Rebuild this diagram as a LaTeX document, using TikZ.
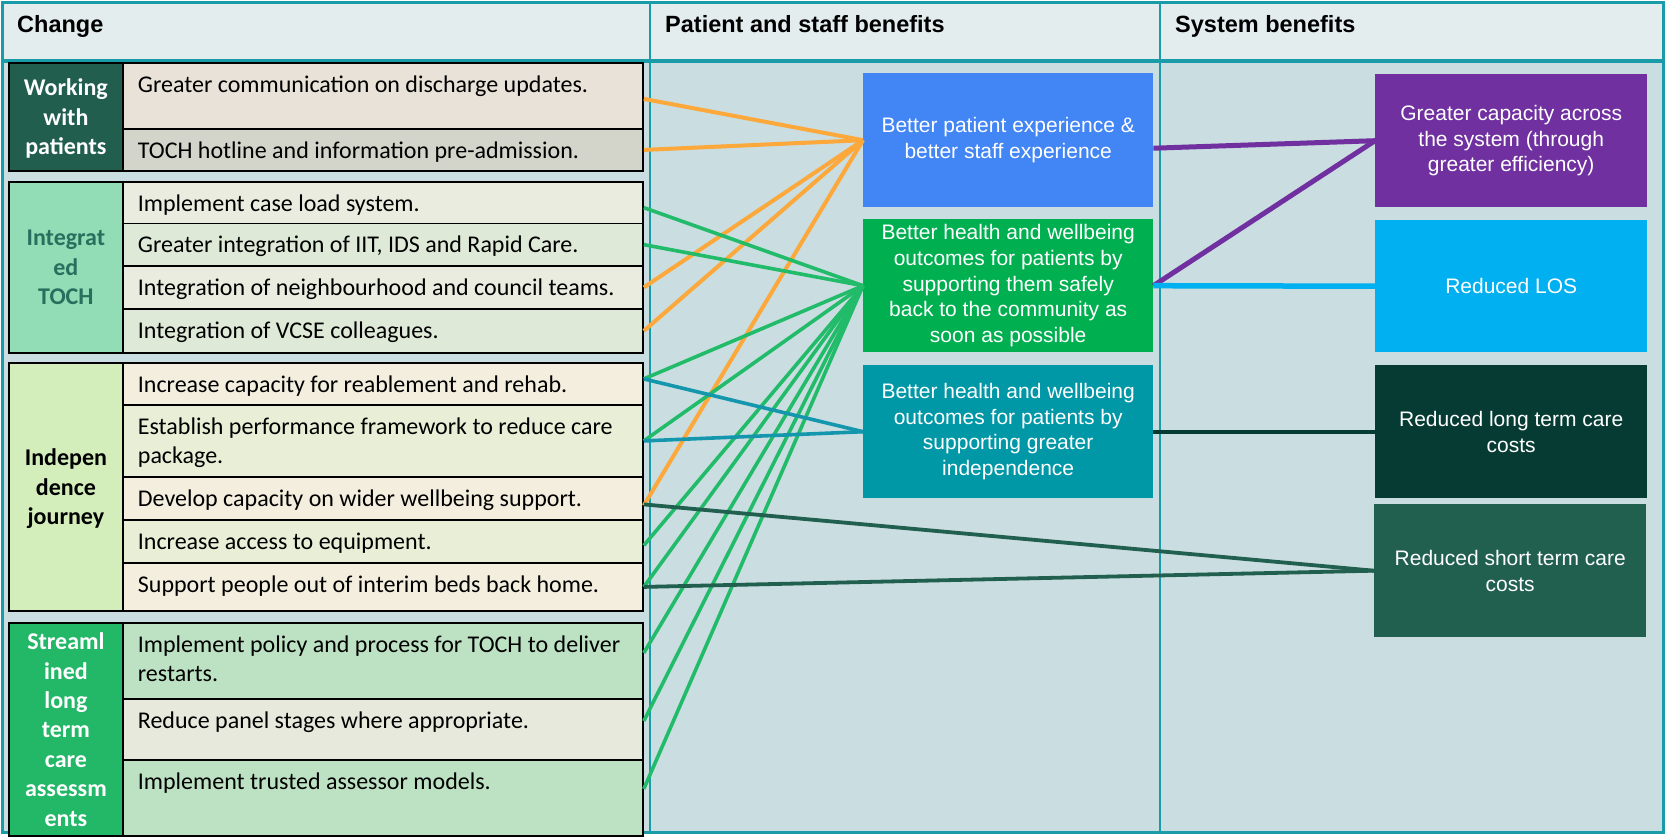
\documentclass[tikz,border=0pt]{standalone}
\usepackage{fontspec}
\newfontfamily\fcarl{Carlito}
\newfontfamily\farial{Liberation Sans}
\definecolor{frameteal}{HTML}{1A9BA8}
\definecolor{hdrbg}{HTML}{E3EDEE}
\definecolor{bodybg}{HTML}{CADDE1}
\definecolor{wplab}{HTML}{215E4E}
\definecolor{itlab}{HTML}{93DDB6}
\definecolor{ittext}{HTML}{2A6F5E}
\definecolor{ijlab}{HTML}{D3EDBB}
\definecolor{sllab}{HTML}{22B868}
\definecolor{wpa}{HTML}{E8E2D9}
\definecolor{wpb}{HTML}{D3D5CA}
\definecolor{ita}{HTML}{E9ECDF}
\definecolor{itb}{HTML}{DFE9D8}
\definecolor{ija}{HTML}{F3EEDE}
\definecolor{ijb}{HTML}{E9EED6}
\definecolor{sla}{HTML}{BDE2C3}
\definecolor{slb}{HTML}{E6E9DC}
\definecolor{cblue}{HTML}{4285F4}
\definecolor{cgreen}{HTML}{00B050}
\definecolor{cteal}{HTML}{0097A7}
\definecolor{cpurple}{HTML}{7030A0}
\definecolor{ccyan}{HTML}{00B0F0}
\definecolor{cdark}{HTML}{053B33}
\definecolor{cshort}{HTML}{215F4E}
\definecolor{lorange}{HTML}{FCA83A}
\definecolor{lgreen}{HTML}{22BB6A}
\definecolor{lteal}{HTML}{1497AD}
\newcommand{\rt}[2]{\parbox[c][#1pt][t]{490pt}{\raggedright\rule{0pt}{29.5pt}#2}}
\tikzset{
  rowbox/.style={draw=black, line width=1.8pt, anchor=north west, inner sep=0pt,
    minimum width=520pt, text=black, font=\fcarl\fontsize{24}{29.3}\selectfont},
  labbox/.style={draw=black, line width=1.8pt, anchor=north west, inner sep=0pt,
    minimum width=114pt, align=center, text depth=0pt, font=\fcarl\bfseries\fontsize{24}{29.4}\selectfont},
  benbox/.style={anchor=north west, inner sep=0pt, align=center, text=white,
    font=\farial\fontsize{21}{25.7}\selectfont},
  hdr/.style={anchor=base west, inner sep=0pt, font=\farial\bfseries\fontsize{23.5}{28}\selectfont},
  oline/.style={draw=lorange, line width=4pt},
  gline/.style={draw=lgreen, line width=3.6pt},
  tline/.style={draw=lteal, line width=3.6pt},
  sline/.style={draw=cshort, line width=3.8pt},
}
\begin{document}
\begin{tikzpicture}[x=1pt,y=-1pt]
\useasboundingbox (0,0) rectangle (1665,836);
% backgrounds and frame
\fill[hdrbg] (2,2) rectangle (1664,61);
\fill[bodybg] (2,61) rectangle (1664,832);
\draw[frameteal, line width=3pt] (2,2.5) rectangle (1663.5,832);
\draw[frameteal, line width=3.5pt] (2,61) -- (1664,61);
\draw[frameteal, line width=2pt] (650,2) -- (650,832);
\draw[frameteal, line width=2pt] (1160,2) -- (1160,832);
% headers
\node[hdr] (hchange) at (17,32) {Change};
\node[hdr] (hpatient) at (665,32) {Patient and staff benefits};
\node[hdr] (hsystem) at (1175,32) {System benefits};
% Working with patients
\node[labbox, fill=wplab, text=white, minimum height=108pt] (lwp) at (8,62) {Working\\with\\patients};
\node[rowbox, fill=wpa, minimum height=66pt] (wp1) at (122,62) {\rt{66}{Greater communication on discharge updates.}};
\node[rowbox, fill=wpb, minimum height=42pt] (wp2) at (122,128) {\rt{42}{TOCH hotline and information pre-admission.}};
% Integrated TOCH
\node[labbox, fill=itlab, text=ittext, minimum height=171pt] (lit) at (8,181) {Integrat\\ed\\TOCH};
\node[rowbox, fill=ita, minimum height=41.5pt] (it1) at (122,181) {\rt{41.5}{Implement case load system.}};
\node[rowbox, fill=itb, minimum height=42.5pt] (it2) at (122,222.5) {\rt{42.5}{Greater integration of IIT, IDS and Rapid Care.}};
\node[rowbox, fill=ita, minimum height=43pt] (it3) at (122,265) {\rt{43}{Integration of neighbourhood and council teams.}};
\node[rowbox, fill=itb, minimum height=44pt] (it4) at (122,308) {\rt{44}{Integration of VCSE colleagues.}};
% Independence journey
\node[labbox, fill=ijlab, text=black, minimum height=248pt] (lij) at (8,362) {Indepen\\dence\\journey};
\node[rowbox, fill=ija, minimum height=42pt] (ij1) at (122,362) {\rt{42}{Increase capacity for reablement and rehab.}};
\node[rowbox, fill=ijb, minimum height=72pt] (ij2) at (122,404) {\rt{72}{Establish performance framework to reduce care\\package.}};
\node[rowbox, fill=ija, minimum height=43pt] (ij3) at (122,476) {\rt{43}{Develop capacity on wider wellbeing support.}};
\node[rowbox, fill=ijb, minimum height=43pt] (ij4) at (122,519) {\rt{43}{Increase access to equipment.}};
\node[rowbox, fill=ija, minimum height=48pt] (ij5) at (122,562) {\rt{48}{Support people out of interim beds back home.}};
% Streamlined long term care assessments
\node[labbox, fill=sllab, text=white, minimum height=213pt] (lsl) at (8,622) {Streaml\\ined\\long\\term\\care\\assessm\\ents};
\node[rowbox, fill=sla, minimum height=76pt] (sl1) at (122,622) {\rt{76}{Implement policy and process for TOCH to deliver\\restarts.}};
\node[rowbox, fill=slb, minimum height=61pt] (sl2) at (122,698) {\rt{61}{Reduce panel stages where appropriate.}};
\node[rowbox, fill=sla, minimum height=76pt] (sl3) at (122,759) {\rt{76}{Implement trusted assessor models.}};
% patient and staff benefits
\node[benbox, fill=cblue, minimum width=290pt, minimum height=134pt] (pb1) at (863,73) {Better patient experience \&\\better staff experience};
\node[benbox, fill=cgreen, minimum width=290pt, minimum height=133pt] (pb2) at (863,219) {Better health and wellbeing\\outcomes for patients by\\supporting them safely\\back to the community as\\soon as possible};
\node[benbox, fill=cteal, minimum width=290pt, minimum height=133pt] (pb3) at (863,365) {Better health and wellbeing\\outcomes for patients by\\supporting greater\\independence};
% system benefits
\node[benbox, fill=cpurple, minimum width=272pt, minimum height=133pt] (sb1) at (1375,74) {Greater capacity across\\the system (through\\greater efficiency)};
\node[benbox, fill=ccyan, minimum width=272pt, minimum height=132pt] (sb2) at (1375,220) {Reduced LOS};
\node[benbox, fill=cdark, minimum width=272pt, minimum height=133pt] (sb3) at (1375,365) {Reduced long term care\\costs};
\node[benbox, fill=cshort, minimum width=272pt, minimum height=133pt] (sb4) at (1374,504) {Reduced short term care\\costs};
% connectors: orange
\draw[oline] ([yshift=-3pt]wp1.east) -- (pb1.west);
\draw[oline] (wp2.east) -- (pb1.west);
\draw[oline] (it3.east) -- (pb1.west);
\draw[oline] (it4.east) -- (pb1.west);
\draw[oline] ([yshift=-7pt]ij3.east) -- (pb1.west);
% connectors: green
\draw[gline] ([yshift=-5pt]it1.east) -- (pb2.west);
\draw[gline] (it2.east) -- (pb2.west);
\draw[gline] ([yshift=5pt]ij1.east) -- (pb2.west);
\draw[gline] (ij2.east) -- (pb2.west);
\draw[gline] ([yshift=-4pt]ij4.east) -- (pb2.west);
\draw[gline] (ij5.east) -- (pb2.west);
\draw[gline] ([yshift=8pt]sl1.east) -- (pb2.west);
\draw[gline] ([yshift=8.5pt]sl2.east) -- (pb2.west);
\draw[gline] ([yshift=9pt]sl3.east) -- (pb2.west);
% connectors: teal
\draw[tline] ([yshift=5pt]ij1.east) -- (pb3.west);
\draw[tline] (ij2.east) -- (pb3.west);
% connectors: dark green to short term
\draw[sline] ([yshift=-6pt]ij3.east) -- (sb4.west);
\draw[sline] (ij5.east) -- (sb4.west);
% system links
\draw[draw=cpurple, line width=5pt] ([yshift=-8pt]pb1.east) -- (sb1.west);
\draw[draw=cpurple, line width=5pt] (pb2.east) -- (sb1.west);
\draw[draw=ccyan, line width=5.5pt] (pb2.east) -- (sb2.west);
\draw[draw=cdark, line width=3.6pt] (pb3.east) -- (sb3.west);
\end{tikzpicture}
\end{document}
